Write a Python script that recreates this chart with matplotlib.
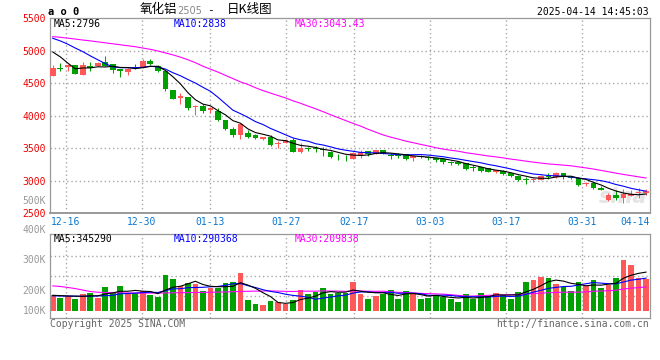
import numpy as np
import matplotlib
matplotlib.use('Agg')
import matplotlib.pyplot as plt
from matplotlib.transforms import blended_transform_factory

# daily candles 2024-12-12 .. 2025-04-14 (80 sessions)
opens = [4615, 4740, 4745, 4780, 4633, 4760, 4770, 4826, 4801, 4724,
         4679, 4745, 4740, 4837, 4765, 4684, 4398, 4276, 4291, 4133,
         4145, 4083, 4073, 3927, 3802, 3698, 3740, 3708, 3640, 3667,
         3562, 3588, 3620, 3448, 3510, 3510, 3490, 3448, 3370, 3354,
         3337, 3398, 3459, 3408, 3474, 3398, 3398, 3408, 3347, 3383,
         3367, 3357, 3337, 3296, 3296, 3270, 3204, 3204, 3194, 3128,
         3153, 3112, 3077, 3020, 3010, 3010, 3077, 3056, 3112, 3061,
         3036, 2944, 2969, 2893, 2699, 2776, 2740, 2770, 2806, 2817]
highs = [4775, 4806, 4790, 4780, 4826, 4826, 4820, 4918, 4801, 4724,
         4740, 4796, 4867, 4867, 4786, 4684, 4398, 4352, 4291, 4163,
         4185, 4135, 4125, 3927, 3833, 3891, 3781, 3719, 3672, 3708,
         3614, 3635, 3656, 3573, 3526, 3536, 3526, 3458, 3406, 3396,
         3439, 3469, 3459, 3474, 3474, 3423, 3423, 3418, 3398, 3398,
         3388, 3367, 3347, 3306, 3296, 3276, 3235, 3219, 3194, 3168,
         3173, 3122, 3092, 3051, 3041, 3082, 3112, 3128, 3122, 3071,
         3051, 2974, 2985, 2913, 2817, 2852, 2867, 2852, 2893, 2878]
lows = [4610, 4694, 4680, 4635, 4633, 4680, 4765, 4765, 4663, 4602,
        4633, 4722, 4740, 4775, 4673, 4372, 4250, 4184, 4092, 4015,
        4040, 4042, 3917, 3776, 3667, 3635, 3651, 3635, 3625, 3536,
        3510, 3588, 3437, 3422, 3464, 3437, 3380, 3354, 3318, 3302,
        3333, 3357, 3388, 3408, 3408, 3342, 3357, 3316, 3306, 3347,
        3321, 3296, 3255, 3245, 3245, 3163, 3153, 3138, 3128, 3112,
        3092, 3065, 2990, 2949, 2980, 3005, 3026, 3041, 3031, 3026,
        2918, 2918, 2878, 2857, 2689, 2710, 2663, 2760, 2740, 2776]
closes = [4730, 4725, 4785, 4648, 4780, 4735, 4811, 4770, 4700, 4694,
          4724, 4728, 4847, 4801, 4694, 4403, 4250, 4301, 4123, 4148,
          4070, 4115, 3932, 3802, 3698, 3875, 3677, 3651, 3672, 3552,
          3588, 3620, 3448, 3510, 3490, 3490, 3474, 3370, 3360, 3344,
          3423, 3449, 3408, 3474, 3408, 3388, 3388, 3337, 3388, 3362,
          3347, 3321, 3281, 3276, 3260, 3184, 3194, 3153, 3128, 3160,
          3107, 3071, 3005, 3010, 3031, 3077, 3061, 3112, 3061, 3041,
          2934, 2959, 2883, 2862, 2781, 2730, 2800, 2790, 2827, 2837]
volumes = [141, 117, 132, 105, 150, 162, 117, 213, 156, 222,
           162, 156, 177, 141, 126, 321, 285, 222, 249, 240,
           177, 204, 204, 249, 258, 339, 96, 60, 51, 87,
           75, 57, 96, 186, 150, 165, 204, 150, 156, 156,
           258, 153, 105, 132, 153, 186, 105, 177, 147, 105,
           118, 142, 127, 103, 79, 151, 106, 160, 133, 160,
           142, 109, 169, 259, 277, 304, 289, 241, 214, 178,
           259, 223, 277, 205, 226, 295, 450, 410, 290, 282]  # thousands

# moving averages before enough sessions are on screen
ma5_head = [4980, 4905, 4810, 4720]
ma10_head = [5190, 5150, 5100, 5040, 4985, 4920, 4860, 4800, 4750]
ma30_head = [5215, 5205, 5192, 5178, 5163, 5150, 5135, 5120, 5105, 5090,
             5075, 5060, 5040, 5020, 4995, 4965, 4935, 4900, 4860, 4815,
             4760, 4715, 4670, 4620, 4570, 4520, 4480, 4430, 4385]
vma5_head = [138, 135, 132, 130]
vma10_head = [133, 132, 131, 130, 129, 130, 132, 135, 138]
vma30_head = [222, 217, 208, 198, 185, 172, 165, 163, 161, 160,
              159, 158, 158, 158, 158, 159, 160, 161, 162, 163,
              164, 165, 166, 168, 170, 172, 174, 175, 176]

tick_idx = [2, 12, 21, 31, 40, 50, 60, 70, 79]
tick_labels = ['12-16', '12-30', '01-13', '01-27', '02-17', '03-03', '03-17', '03-31', '04-14']
price_ticks = [2500, 3000, 3500, 4000, 4500, 5000, 5500]
vol_labels = ['500K', '400K', '300K', '200K', '100K']
vol_label_y = [200.7, 230, 260, 290.7, 310.7]

RED = '#FF5858'
GREEN = '#00A000'
GRID = '#A8A8A8'
MONO = 'DejaVu Sans Mono'
W, H = 660, 360


def rolling(values, head, n):
    out = list(head)
    for i in range(len(head), len(values)):
        out.append(np.mean(values[i - n + 1:i + 1]))
    return out


def fx(x):
    return x / W


def fy(y):
    return 1 - y / H


x = np.arange(len(closes))
colors = [RED if c >= o else GREEN for o, c in zip(opens, closes)]
grid_x = [i * 1.0104 - 0.29 for i in tick_idx[:-1]]

fig = plt.figure(figsize=(6.6, 3.6), dpi=100)

# ---- price panel
ax1 = fig.add_axes([fx(50), fy(213.3), 600 / W, (213.3 - 18.1) / H])
ax1.set_xlim(-0.36, 79.53)
ax1.set_ylim(2500, 5500)
for v in price_ticks[1:-1]:
    ax1.axhline(v, color=GRID, lw=1.0, ls=(0, (1, 2)), zorder=0)
for g in grid_x:
    ax1.axvline(g, color=GRID, lw=1.0, ls=(0, (1, 2)), zorder=0)

ax1.text(0.955, 0.085, 'sina', transform=ax1.transAxes, ha='center', va='center',
         fontsize=15, fontstyle='italic', fontweight='bold', color='#e4e4e4', zorder=0)

ax1.vlines(x, lows, highs, colors=colors, lw=0.75, zorder=2)
body_lo = [min(o, c) for o, c in zip(opens, closes)]
body_h = [max(abs(c - o), 12) for o, c in zip(opens, closes)]
ax1.bar(x, body_h, bottom=body_lo, width=0.76, color=colors, linewidth=0, zorder=3)

ax1.plot(x, rolling(closes, ma30_head, 30), color='#FF00FF', lw=0.8, zorder=4)
ax1.plot(x, rolling(closes, ma10_head, 10), color='#0000FF', lw=0.8, zorder=4)
ax1.plot(x, rolling(closes, ma5_head, 5), color='black', lw=0.8, zorder=4)

ax1.set_xticks([])
ax1.set_yticks(price_ticks)
ax1.set_yticklabels([str(v) for v in price_ticks], color='#EE0000', family=MONO, fontsize=7)
ax1.tick_params(axis='y', length=0, pad=3)
for s in ax1.spines.values():
    s.set_color('#999999')
    s.set_linewidth(0.9)
ax1.spines['bottom'].set_linewidth(1.4)

trans = blended_transform_factory(ax1.transData, ax1.transAxes)
for g, lab in zip(grid_x, tick_labels[:-1]):
    ax1.text(g, -0.043, lab, transform=trans, ha='center', va='center',
             color='#0A78D2', family=MONO, fontsize=7)
ax1.text(1.0, -0.043, tick_labels[-1], transform=ax1.transAxes, ha='right', va='center',
         color='#0A78D2', family=MONO, fontsize=7)

# ---- volume panel
ax2 = fig.add_axes([fx(50), fy(317.7), 600 / W, (317.7 - 234.3) / H])
ax2.set_xlim(-0.36, 79.53)
ax2.set_ylim(-62.6, 683.8)
for v in [134, 313, 492]:
    ax2.axhline(v, color=GRID, lw=1.0, ls=(0, (1, 2)), zorder=0)
for g in grid_x:
    ax2.axvline(g, color=GRID, lw=1.0, ls=(0, (1, 2)), zorder=0)
ax2.bar(x, volumes, width=0.76, color=colors, linewidth=0, zorder=2)
ax2.plot(x, rolling(volumes, vma30_head, 30), color='#FF00FF', lw=0.8, zorder=3)
ax2.plot(x, rolling(volumes, vma10_head, 10), color='#0000FF', lw=0.8, zorder=3)
ax2.plot(x, rolling(volumes, vma5_head, 5), color='black', lw=0.8, zorder=3)
ax2.set_xticks([])
ax2.set_yticks([])
for s in ax2.spines.values():
    s.set_color('#999999')
    s.set_linewidth(0.9)

for lab, yy in zip(vol_labels, vol_label_y):
    fig.text(fx(46), fy(yy), lab, ha='right', va='center', color='#999999', family=MONO, fontsize=7)

# ---- header texts
fig.text(fx(48), fy(12), 'a o 0', ha='left', va='center', family=MONO, fontsize=7.5, fontweight='bold')
fig.text(fx(140), fy(10), '氧化铝', ha='left', va='center', family=['Noto Sans CJK SC', 'DejaVu Sans'], fontsize=9)
fig.text(fx(177), fy(11), '2505', ha='left', va='center', family='DejaVu Sans', fontsize=7, color='#888888')
fig.text(fx(210), fy(10), '-', ha='center', va='center', family=MONO, fontsize=8)
fig.text(fx(227), fy(10), '日K线图', ha='left', va='center', family=['Noto Sans CJK SC', 'DejaVu Sans'], fontsize=9)
fig.text(fx(649), fy(12.3), '2025-04-14 14:45:03', ha='right', va='center', family=MONO, fontsize=7)

for xx, yy, txt, col in [(54, 24, 'MA5:2796', 'black'), (174, 24, 'MA10:2838', '#0000FF'),
                         (295, 24, 'MA30:3043.43', '#FF00FF'),
                         (54, 239, 'MA5:345290', 'black'), (174, 239, 'MA10:290368', '#0000FF'),
                         (295, 239, 'MA30:209838', '#FF00FF')]:
    fig.text(fx(xx), fy(yy), txt, ha='left', va='center', family=MONO, fontsize=7, color=col)

fig.text(fx(50), fy(323.7), 'Copyright 2025 SINA.COM', ha='left', va='center', family=MONO, fontsize=7, color='#666666')
fig.text(fx(649), fy(323.7), 'http://finance.sina.com.cn', ha='right', va='center', family=MONO, fontsize=7, color='#666666')

fig.savefig('out.png', dpi=100, facecolor='white')
